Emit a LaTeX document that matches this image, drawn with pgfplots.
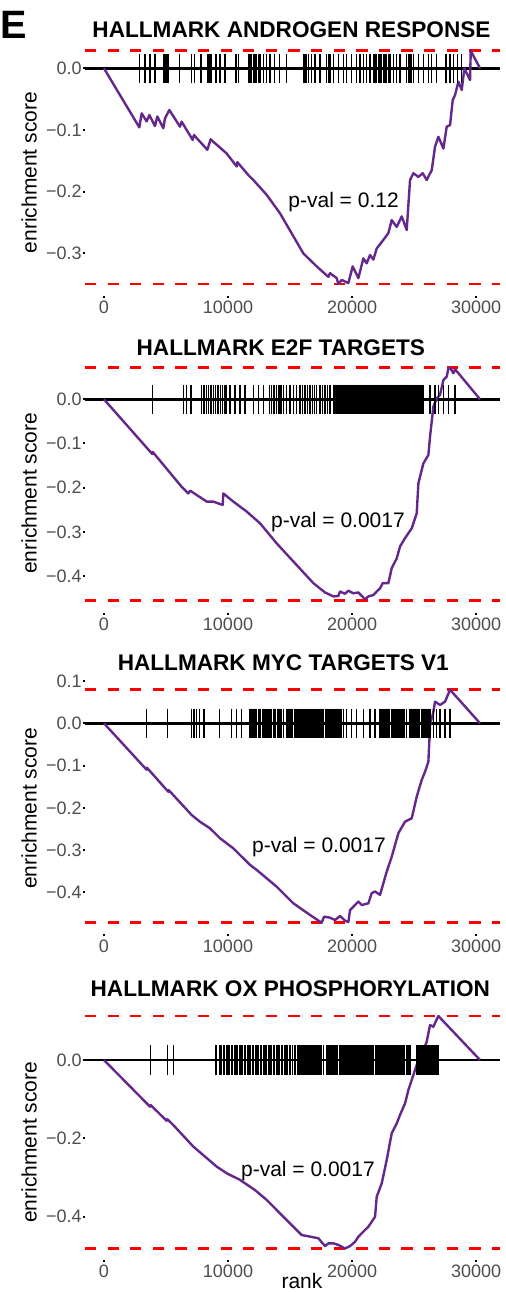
\documentclass[border=0pt]{standalone}
\usepackage{fontspec}
\setmainfont{Liberation Sans}
\usepackage{pgfplots}
\pgfplotsset{compat=1.18}
\definecolor{curvecol}{RGB}{100,40,140}
\definecolor{ticklab}{RGB}{77,77,77}
\pgfplotsset{
  gsea/.style={
    scale only axis,
    width=207.5pt,
    xmin=-1530, xmax=31930,
    scaled x ticks=false, scaled y ticks=false,
    axis line style={draw=none},
    tick align=outside,
    xtick pos=bottom, ytick pos=left,
    major tick length=1pt,
    tick style={black, line width=1pt},
    xtick={0,10000,20000,30000},
    xticklabels={0,10000,20000,30000},
    tick label style={font=\fontsize{9}{10}\selectfont, text=ticklab},
    yticklabel style={inner sep=0pt, xshift=-0.5pt},
    xticklabel style={inner sep=0pt, yshift=-1.5pt},
    clip=false,
    anchor=south west,
  },
  es/.style={curvecol, line width=1.2pt, line join=round, no marks},
  zero/.style={black, line width=1.3pt, no marks},
  rd/.style={red, line width=1.4pt, dash pattern=on 5.65pt off 5.65pt, no marks},
  hit/.style={only marks, mark=|, mark size=7.3pt, mark options={black, line width=0.6pt}},
}
\begin{document}
\begin{tikzpicture}[x=0.5pt,y=-0.5pt]
\path[use as bounding box] (0,0) rectangle (506,1292);
\node[anchor=base west, font=\fontsize{19.8}{22}\selectfont\bfseries, inner sep=0] at (0,38) {E};
% ---------- Panel 1
\begin{axis}[gsea, at={(42.5pt,-148pt)}, height=128.45pt, ymin=-0.369, ymax=0.0474,
  ytick={-0.3,-0.2,-0.1,0}, yticklabels={−0.3,−0.2,−0.1,0.0}]
\addplot[rd] coordinates {(-1530,0.0285) (31930,0.0285)};
\addplot[rd] coordinates {(-1530,-0.3496) (31930,-0.3496)};
\addplot[zero] coordinates {(-1530,0) (31930,0)};
\addplot[es] coordinates {(0,0) (2849,-0.0956) (3038,-0.073) (3441,-0.086) (3656,-0.0756) (4113,-0.0935) (4301,-0.078) (4785,-0.097) (4919,-0.081) (5269,-0.0675) (6129,-0.0945) (6263,-0.0864) (7151,-0.116) (7258,-0.108) (7473,-0.113) (8333,-0.132) (8602,-0.115) (8817,-0.119) (9892,-0.138) (10699,-0.159) (10753,-0.152) (11640,-0.173) (12043,-0.181) (13118,-0.205) (14194,-0.235) (16075,-0.300) (17150,-0.321) (18091,-0.338) (18226,-0.332) (18763,-0.340) (18898,-0.3496) (19167,-0.343) (19704,-0.348) (20054,-0.321) (20511,-0.340) (20914,-0.308) (21183,-0.316) (21452,-0.3025) (21720,-0.310) (21989,-0.292) (22527,-0.278) (22930,-0.267) (23199,-0.246) (23602,-0.257) (24005,-0.240) (24409,-0.262) (24677,-0.181) (24946,-0.170) (25349,-0.176) (25699,-0.170) (26022,-0.181) (26425,-0.165) (26694,-0.127) (26962,-0.111) (27366,-0.130) (27634,-0.0945) (27903,-0.092) (28118,-0.0513) (28306,-0.0432) (28575,-0.0216) (28844,-0.035) (29059,0) (29516,-0.019) (29570,0.0285) (30323,0)};
\addplot[hit] coordinates {(2850,0) (3307,0) (3710,0) (4113,0) (4785,0) (4893,0) (5000,0) (5108,0) (5215,0) (6075,0) (7070,0) (7285,0) (7822,0) (8333,0) (8441,0) (8548,0) (8683,0) (9032,0) (9355,0) (9758,0) (10645,0) (10833,0) (11640,0) (11774,0) (11908,0) (12043,0) (12177,0) (12311,0) (12446,0) (12580,0) (12849,0) (13118,0) (13387,0) (13736,0) (14139,0) (14731,0) (16075,0) (16209,0) (16344,0) (16478,0) (16747,0) (17016,0) (17419,0) (17956,0) (18091,0) (18225,0) (18494,0) (18897,0) (19300,0) (19569,0) (19972,0) (20375,0) (20644,0) (20913,0) (21182,0) (21451,0) (21719,0) (21854,0) (21988,0) (22123,0) (22257,0) (22391,0) (22526,0) (22660,0) (22794,0) (22929,0) (23063,0) (23332,0) (23601,0) (23870,0) (24407,0) (24542,0) (24677,0) (24811,0) (24945,0) (25348,0) (25751,0) (26154,0) (26423,0) (26827,0) (27579,0) (27902,0) (28171,0) (28520,0) (28843,0)};
\node[anchor=base west, font=\fontsize{10.5}{12}\selectfont, inner sep=0] at (axis cs:14839,-0.2253) {p-val = 0.12};
\end{axis}
\node[anchor=base, font=\fontsize{11.3}{13}\selectfont\bfseries, inner sep=0] at (291.5,37.3) {HALLMARK ANDROGEN RESPONSE};
\node[rotate=90, anchor=base, font=\fontsize{10.5}{12}\selectfont, inner sep=0] at (36.7,172.5) {enrichment score};
% ---------- Panel 2
\begin{axis}[gsea, at={(42.5pt,-306.25pt)}, height=128.25pt, ymin=-0.4824, ymax=0.0979,
  ytick={-0.4,-0.3,-0.2,-0.1,0}, yticklabels={−0.4,−0.3,−0.2,−0.1,0.0}]
\addplot[rd] coordinates {(-1530,0.0715) (31930,0.0715)};
\addplot[rd] coordinates {(-1530,-0.456) (31930,-0.456)};
\addplot[zero] coordinates {(-1530,0) (31930,0)};
\addplot[es] coordinates {(0,0) (3900,-0.124) (3925,-0.119) (6263,-0.198) (6801,-0.213) (6935,-0.207) (7070,-0.209) (7876,-0.224) (8280,-0.2315) (8817,-0.2315) (9355,-0.237) (9570,-0.239) (9624,-0.213) (10430,-0.2315) (11505,-0.254) (12581,-0.2805) (13925,-0.326) (15269,-0.367) (16882,-0.416) (17823,-0.437) (18495,-0.446) (18898,-0.445) (19032,-0.435) (19435,-0.440) (19704,-0.433) (20108,-0.439) (20511,-0.437) (21048,-0.4525) (21317,-0.446) (21720,-0.443) (21989,-0.435) (22258,-0.4276) (22473,-0.416) (22930,-0.416) (23199,-0.382) (23602,-0.360) (23871,-0.333) (24274,-0.314) (24812,-0.292) (25215,-0.258) (25349,-0.190) (25618,-0.160) (25753,-0.145) (26156,-0.126) (26290,-0.0845) (26559,-0.0166) (26828,0.0023) (27097,0.010) (27366,0.0437) (27634,0.0513) (27769,0.0701) (27903,0.0715) (28172,0.0588) (28306,0.068) (30323,0)};
\addplot[hit] coordinates {(3925,0) (6398,0) (6667,0) (7016,0) (7876,0) (8064,0) (8253,0) (8441,0) (8629,0) (8817,0) (9005,0) (9194,0) (9382,0) (9570,0) (9758,0) (9892,0) (10161,0) (10564,0) (10967,0) (11371,0) (12043,0) (12446,0) (12849,0) (13333,0) (13521,0) (13709,0) (13924,0) (14112,0) (14274,0) (14462,0) (14731,0) (15000,0) (15268,0) (15537,0) (15806,0) (15994,0) (16209,0) (16397,0) (16612,0) (16800,0) (16961,0) (17150,0) (17419,0) (17607,0) (17822,0) (18010,0) (18225,0) (18494,0) (18580,0) (18670,0) (18760,0) (18850,0) (18940,0) (19030,0) (19120,0) (19210,0) (19300,0) (19390,0) (19480,0) (19570,0) (19660,0) (19750,0) (19840,0) (19930,0) (20020,0) (20110,0) (20200,0) (20290,0) (20380,0) (20470,0) (20560,0) (20650,0) (20740,0) (20830,0) (20920,0) (21010,0) (21100,0) (21190,0) (21280,0) (21370,0) (21460,0) (21550,0) (21640,0) (21730,0) (21820,0) (21910,0) (22000,0) (22090,0) (22180,0) (22270,0) (22360,0) (22450,0) (22540,0) (22630,0) (22720,0) (22810,0) (22900,0) (22980,0) (23060,0) (23140,0) (23220,0) (23300,0) (23380,0) (23460,0) (23540,0) (23620,0) (23700,0) (23780,0) (23860,0) (23940,0) (24020,0) (24100,0) (24180,0) (24260,0) (24340,0) (24420,0) (24500,0) (24580,0) (24660,0) (24740,0) (24820,0) (24900,0) (24980,0) (25060,0) (25140,0) (25220,0) (25300,0) (25380,0) (25460,0) (25540,0) (25640,0) (25751,0) (26289,0) (26692,0) (26961,0) (27364,0) (27767,0) (28305,0)};
\node[anchor=base west, font=\fontsize{10.5}{12}\selectfont, inner sep=0] at (axis cs:13444,-0.2896) {p-val = 0.0017};
\end{axis}
\node[anchor=base, font=\fontsize{11.3}{13}\selectfont\bfseries, inner sep=0] at (280.8,355) {HALLMARK E2F TARGETS};
\node[rotate=90, anchor=base, font=\fontsize{10.5}{12}\selectfont, inner sep=0] at (36.7,493.3) {enrichment score};
% ---------- Panel 3
\begin{axis}[gsea, at={(42.5pt,-467.2pt)}, height=128.15pt, ymin=-0.4996, ymax=0.107,
  ytick={-0.4,-0.3,-0.2,-0.1,0,0.1}, yticklabels={−0.4,−0.3,−0.2,−0.1,0.0,0.1}]
\addplot[rd] coordinates {(-1530,0.0795) (31930,0.0795)};
\addplot[rd] coordinates {(-1530,-0.472) (31930,-0.472)};
\addplot[zero] coordinates {(-1530,0) (31930,0)};
\addplot[es] coordinates {(0,0) (3441,-0.110) (3460,-0.105) (5188,-0.162) (5215,-0.158) (7070,-0.217) (7742,-0.233) (8548,-0.2485) (9355,-0.272) (10430,-0.296) (11774,-0.335) (12312,-0.347) (13925,-0.3866) (15269,-0.426) (16613,-0.4536) (17554,-0.472) (17742,-0.4576) (18226,-0.460) (18629,-0.4655) (19032,-0.456) (19435,-0.467) (19704,-0.4705) (19839,-0.442) (20242,-0.430) (20511,-0.422) (20780,-0.430) (21317,-0.426) (21586,-0.402) (21855,-0.398) (22258,-0.406) (22796,-0.351) (23199,-0.3156) (23737,-0.260) (24274,-0.2327) (24812,-0.2248) (25215,-0.1736) (25618,-0.134) (25887,-0.1144) (26156,-0.0907) (26237,-0.0394) (26290,-0.0039) (26559,0.0276) (26694,0.0513) (27097,0.0434) (27500,0.0513) (27903,0.0795) (30323,0)};
\addplot[hit] coordinates {(3441,0) (5108,0) (7070,0) (7258,0) (7473,0) (7688,0) (8064,0) (9301,0) (10296,0) (10699,0) (11102,0) (11774,0) (11880,0) (11990,0) (12100,0) (12210,0) (12320,0) (12430,0) (12540,0) (12650,0) (12760,0) (12870,0) (12980,0) (13090,0) (13200,0) (13310,0) (13420,0) (13530,0) (13640,0) (13750,0) (13860,0) (13970,0) (14080,0) (14190,0) (14300,0) (14462,0) (14731,0) (14830,0) (14930,0) (15030,0) (15130,0) (15230,0) (15330,0) (15430,0) (15530,0) (15630,0) (15730,0) (15830,0) (15930,0) (16030,0) (16130,0) (16230,0) (16330,0) (16430,0) (16530,0) (16630,0) (16730,0) (16830,0) (16930,0) (17030,0) (17130,0) (17230,0) (17330,0) (17430,0) (17530,0) (17630,0) (17730,0) (17830,0) (17930,0) (18030,0) (18130,0) (18230,0) (18330,0) (18430,0) (18530,0) (18630,0) (18730,0) (18830,0) (18930,0) (19030,0) (19130,0) (19301,0) (19569,0) (19972,0) (20375,0) (20913,0) (21451,0) (21854,0) (22257,0) (22350,0) (22450,0) (22550,0) (22650,0) (22750,0) (22850,0) (22950,0) (23050,0) (23150,0) (23250,0) (23350,0) (23450,0) (23550,0) (23650,0) (23750,0) (23850,0) (23950,0) (24050,0) (24150,0) (24250,0) (24407,0) (24676,0) (24770,0) (24870,0) (24970,0) (25070,0) (25170,0) (25270,0) (25370,0) (25470,0) (25570,0) (25670,0) (25770,0) (25870,0) (25970,0) (26070,0) (26170,0) (26289,0) (26558,0) (26827,0) (27095,0) (27499,0) (27902,0)};
\node[anchor=base west, font=\fontsize{10.5}{12}\selectfont, inner sep=0] at (axis cs:11911,-0.3053) {p-val = 0.0017};
\end{axis}
\node[anchor=base, font=\fontsize{11.3}{13}\selectfont\bfseries, inner sep=0] at (283.3,670.7) {HALLMARK MYC TARGETS V1};
\node[rotate=90, anchor=base, font=\fontsize{10.5}{12}\selectfont, inner sep=0] at (36.7,808.3) {enrichment score};
% ---------- Panel 4
\begin{axis}[gsea, at={(42.5pt,-630pt)}, height=127.8pt, ymin=-0.5105, ymax=0.142,
  ytick={-0.4,-0.2,0}, yticklabels={−0.4,−0.2,0.0}]
\addplot[rd] coordinates {(-1530,0.1123) (31930,0.1123)};
\addplot[rd] coordinates {(-1530,-0.4808) (31930,-0.4808)};
\addplot[zero] coordinates {(-1530,0) (31930,0)};
\addplot[es] coordinates {(0,0) (3710,-0.119) (3764,-0.115) (5054,-0.155) (5108,-0.151) (5591,-0.166) (7204,-0.221) (9086,-0.272) (9892,-0.289) (10968,-0.306) (12178,-0.332) (13118,-0.357) (14462,-0.400) (15941,-0.4468) (16344,-0.449) (17285,-0.455) (17823,-0.475) (18091,-0.468) (18495,-0.468) (18898,-0.472) (19436,-0.481) (19839,-0.475) (20242,-0.464) (20511,-0.451) (20914,-0.438) (21317,-0.4255) (21586,-0.4128) (21855,-0.400) (21989,-0.349) (22392,-0.315) (22796,-0.255) (23199,-0.187) (23602,-0.162) (23871,-0.140) (24274,-0.1106) (24543,-0.0766) (24946,-0.0383) (25349,0) (25753,0.0255) (26022,0.0468) (26290,0.0894) (26559,0.085) (26694,0.095) (26963,0.1123) (30323,0)};
\addplot[hit] coordinates {(3764,0) (5108,0) (5591,0) (9032,0) (9355,0) (9480,0) (9610,0) (9740,0) (9870,0) (10000,0) (10130,0) (10260,0) (10390,0) (10520,0) (10650,0) (10780,0) (10910,0) (11040,0) (11170,0) (11300,0) (11430,0) (11560,0) (11690,0) (11820,0) (11950,0) (12080,0) (12210,0) (12340,0) (12470,0) (12600,0) (12730,0) (12860,0) (12990,0) (13120,0) (13250,0) (13380,0) (13510,0) (13640,0) (13770,0) (13900,0) (14030,0) (14160,0) (14290,0) (14420,0) (14550,0) (14680,0) (14810,0) (14940,0) (15070,0) (15200,0) (15330,0) (15460,0) (15590,0) (15700,0) (15806,0) (15940,0) (16020,0) (16100,0) (16180,0) (16260,0) (16340,0) (16420,0) (16500,0) (16580,0) (16660,0) (16740,0) (16820,0) (16900,0) (16980,0) (17060,0) (17140,0) (17220,0) (17300,0) (17380,0) (17460,0) (17553,0) (17687,0) (17956,0) (18060,0) (18160,0) (18260,0) (18360,0) (18460,0) (18560,0) (18660,0) (18760,0) (18860,0) (18960,0) (19060,0) (19160,0) (19260,0) (19360,0) (19460,0) (19560,0) (19660,0) (19760,0) (19860,0) (19960,0) (20060,0) (20160,0) (20260,0) (20360,0) (20460,0) (20560,0) (20660,0) (20760,0) (20860,0) (20960,0) (21060,0) (21160,0) (21260,0) (21360,0) (21460,0) (21560,0) (21660,0) (21760,0) (21860,0) (21960,0) (22060,0) (22160,0) (22260,0) (22360,0) (22460,0) (22560,0) (22660,0) (22760,0) (22860,0) (22960,0) (23060,0) (23160,0) (23260,0) (23360,0) (23460,0) (23560,0) (23660,0) (23760,0) (23860,0) (23960,0) (24060,0) (24160,0) (24260,0) (24360,0) (24460,0) (24560,0) (24676,0) (25214,0) (25300,0) (25390,0) (25480,0) (25570,0) (25660,0) (25750,0) (25840,0) (25930,0) (26020,0) (26110,0) (26200,0) (26290,0) (26380,0) (26470,0) (26560,0) (26650,0) (26740,0) (26850,0) (26961,0)};
\node[anchor=base west, font=\fontsize{10.5}{12}\selectfont, inner sep=0] at (axis cs:11022,-0.2961) {p-val = 0.0017};
\end{axis}
\node[anchor=base, font=\fontsize{11.3}{13}\selectfont\bfseries, inner sep=0] at (290.3,996.7) {HALLMARK OX PHOSPHORYLATION};
\node[rotate=90, anchor=base, font=\fontsize{10.5}{12}\selectfont, inner sep=0] at (36.7,1142.2) {enrichment score};
\node[anchor=base, font=\fontsize{10.5}{12}\selectfont, inner sep=0] at (302,1288.3) {rank};
\end{tikzpicture}
\end{document}
